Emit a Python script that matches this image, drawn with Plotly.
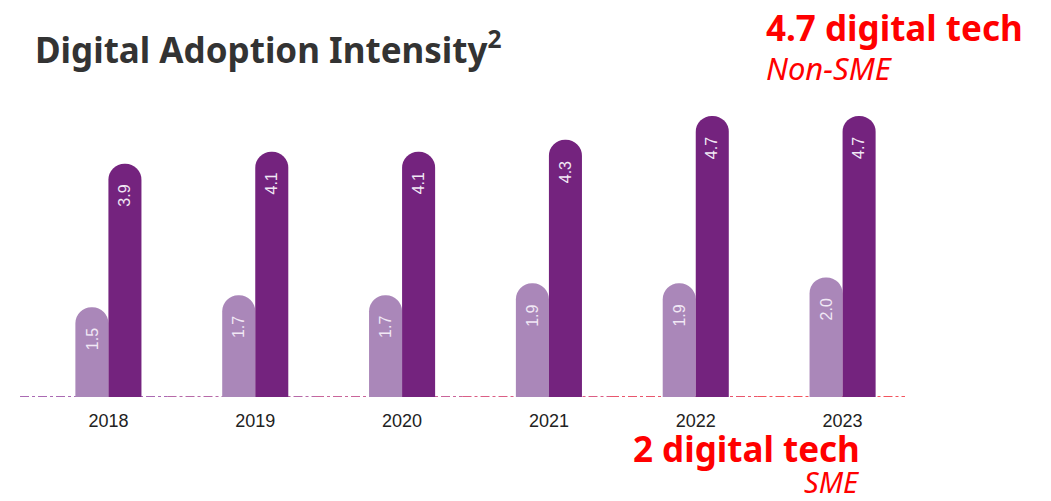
import plotly.graph_objects as go

years = ["2018", "2019", "2020", "2021", "2022", "2023"]
sme = [1.5, 1.7, 1.7, 1.9, 1.9, 2.0]
non_sme = [3.9, 4.1, 4.1, 4.3, 4.7, 4.7]

LIGHT = "#AA87B9"
DARK = "#74237E"
LABEL_FONT = dict(family="Liberation Sans, Arial", size=16, color="#F1E8F5")

pos = list(range(len(years)))

fig = go.Figure()
fig.add_trace(go.Bar(
    x=pos, y=sme, name="SME",
    marker=dict(color=LIGHT, cornerradius=16, line_width=0),
))
fig.add_trace(go.Bar(
    x=pos, y=non_sme, name="Non-SME",
    marker=dict(color=DARK, cornerradius=16, line_width=0),
))

# rotated value labels a little below each bar's rounded top
for vals, shift in ((sme, -16.5), (non_sme, 16.5)):
    for p, v in zip(pos, vals):
        fig.add_annotation(x=p, y=v, xref="x", yref="y", xshift=shift, yshift=-32,
                           text=f"{v:.1f}", textangle=-90, showarrow=False,
                           xanchor="center", yanchor="middle", font=LABEL_FONT)

# dash-dot baseline fading from purple to red
seg_colors = ["#8E3A9A", "#A03A8C", "#B8337A", "#CF2A5E", "#E21F3E", "#F01C2A"]
x0, x1 = -0.017, 0.9875
n = len(seg_colors)
for i, c in enumerate(seg_colors):
    fig.add_shape(type="line", xref="paper", yref="y",
                  x0=x0 + (x1 - x0) * i / n, x1=x0 + (x1 - x0) * (i + 1) / n,
                  y0=0, y1=0, line=dict(color=c, width=1.4, dash="dashdot"), layer="below")

red = "#FF0000"
fig.add_annotation(text="<b>Digital Adoption Intensity<sup>2</sup></b>", xref="paper", yref="paper",
                   x=-0.002, y=1.0, yshift=33, xanchor="left", yanchor="middle", showarrow=False,
                   font=dict(family="Noto Sans", size=35, color="#333333"))
fig.add_annotation(text="<b>4.7 digital tech</b>", xref="paper", yref="paper",
                   x=(764 - 35) / 881, y=1.0, yshift=53, xanchor="left", yanchor="middle",
                   showarrow=False, font=dict(family="Noto Sans", size=35, color=red))
fig.add_annotation(text="<i>Non-SME</i>", xref="paper", yref="paper",
                   x=(764 - 35) / 881, y=1.0, yshift=12, xanchor="left", yanchor="middle",
                   showarrow=False, font=dict(family="Noto Sans", size=31, color=red))
fig.add_annotation(text="<b>2 digital tech</b>", xref="paper", yref="paper",
                   x=(862 - 35) / 881, y=0, yshift=-51, xanchor="right", yanchor="middle",
                   showarrow=False, font=dict(family="Noto Sans", size=35, color=red))
fig.add_annotation(text="<i>SME</i>", xref="paper", yref="paper",
                   x=(862 - 35) / 881, y=0, yshift=-84, xanchor="right", yanchor="middle",
                   showarrow=False, font=dict(family="Noto Sans", size=29, color=red))

fig.update_layout(
    width=1051, height=501,
    margin=dict(l=35, r=135, t=80, b=104),
    paper_bgcolor="white", plot_bgcolor="white",
    barmode="group", bargap=0.55, bargroupgap=0,
    showlegend=False,
    xaxis=dict(range=[-0.5, len(years) - 0.5], tickvals=pos, ticktext=years,
               showgrid=False, zeroline=False, showline=False,
               ticks="outside", ticklen=7, tickcolor="rgba(0,0,0,0)",
               tickfont=dict(family="Liberation Sans, Arial", size=18, color="#222222")),
    yaxis=dict(range=[0, 5.3], visible=False),
)

fig.write_html("out.html")
